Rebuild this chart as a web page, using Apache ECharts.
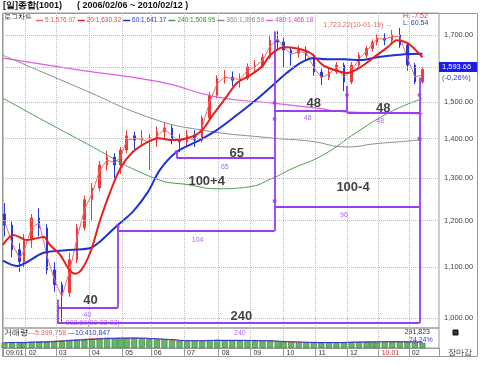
<!DOCTYPE html>
<html><head><meta charset="utf-8">
<script src="https://cdn.jsdelivr.net/npm/echarts@6/dist/echarts.min.js"></script>
<style>html,body{margin:0;padding:0;background:#fff}#c{width:480px;height:365px}</style>
</head><body><div id="c"></div>
<script>
// ---------- categories (trading days) ----------
const holidays = ['2009-01-26','2009-01-27','2009-05-01','2009-05-05','2009-10-02','2009-12-25','2009-12-31','2010-01-01','2010-02-15','2010-03-01'];
function tradingDays(from, to) {
  const out = [];
  const d = new Date(from + 'T00:00:00Z'), end = new Date(to + 'T00:00:00Z');
  while (d <= end) {
    const wd = d.getUTCDay(), s = d.toISOString().slice(0, 10);
    if (wd !== 0 && wd !== 6 && holidays.indexOf(s) < 0) out.push(s);
    d.setUTCDate(d.getUTCDate() + 1);
  }
  return out;
}
const days = tradingDays('2009-01-08', '2010-03-03');
const lastDataDay = '2010-02-12';

// ---------- weekly price data ----------
const weekDates = ['2009-01-09','2009-01-16','2009-01-23','2009-01-30',
 '2009-02-06','2009-02-13','2009-02-20','2009-02-27',
 '2009-03-06','2009-03-13','2009-03-20','2009-03-27',
 '2009-04-03','2009-04-10','2009-04-17','2009-04-24','2009-04-30',
 '2009-05-08','2009-05-15','2009-05-22','2009-05-29',
 '2009-06-05','2009-06-12','2009-06-19','2009-06-26',
 '2009-07-03','2009-07-10','2009-07-17','2009-07-24','2009-07-31',
 '2009-08-07','2009-08-14','2009-08-21','2009-08-28',
 '2009-09-04','2009-09-11','2009-09-18','2009-09-25',
 '2009-10-01','2009-10-09','2009-10-16','2009-10-23','2009-10-30',
 '2009-11-06','2009-11-13','2009-11-20','2009-11-27',
 '2009-12-04','2009-12-11','2009-12-18','2009-12-24','2009-12-30',
 '2010-01-08','2010-01-15','2010-01-22','2010-01-29',
 '2010-02-05','2010-02-12'];
const wkOpen = [1215,1190,1136,1111, 1157,1206,1184,1094, 1064,1048,1115,1184,
 1248,1276,1332,1352,1332, 1370,1407,1396,1401, 1401,1418,1428,1396,
 1391,1409,1396,1455,1519, 1568,1571,1562,1568, 1601,1604,1631,1684,
 1678,1653,1643,1653,1637, 1586,1571,1586,1607, 1557,1607,1637,1658,1678,
 1690,1684,1700,1669, 1607,1557];
const wkClose = [1190,1136,1111,1157, 1206,1184,1094,1064, 1048,1115,1184,1248,
 1276,1332,1352,1332,1370, 1407,1396,1401,1401, 1418,1428,1396,1391,
 1409,1396,1455,1519,1568, 1571,1562,1568,1601, 1604,1631,1684,1678,
 1653,1643,1653,1637,1586, 1571,1586,1607,1557, 1607,1637,1658,1678,1690,
 1684,1700,1669,1607, 1557,1593.66];
const wkLow = [1165,1120,1090,1100, 1140,1165,1085,1050, 992.69,1040,1108,1178,
 1200,1268,1318,1300,1310, 1362,1372,1382,1320, 1378,1398,1385,1365,
 1378,1378,1390,1450,1510, 1552,1545,1540,1562, 1585,1598,1625,1655,
 1600,1605,1630,1622,1575, 1548,1562,1580,1530, 1550,1600,1628,1648,1668,
 1668,1670,1660,1590, 1550,1552];
const wkHigh = [1240,1198,1150,1170, 1215,1228,1192,1110, 1070,1130,1192,1258,
 1288,1342,1368,1362,1378, 1422,1418,1422,1412, 1432,1442,1436,1412,
 1422,1422,1462,1528,1576, 1592,1588,1582,1612, 1622,1642,1700,1712,
 1690,1662,1668,1664,1642, 1596,1600,1616,1614, 1616,1646,1666,1686,1702,
 1706,1716,1723.22,1676, 1614,1600];
const ma5 = [1200,1150,1118,1135, 1185,1195,1125,1075, 1040,1090,1160,1225,
 1262,1318,1345,1338,1352, 1395,1400,1398,1390, 1405,1425,1408,1392,
 1400,1398,1430,1500,1552, 1572,1566,1565,1590, 1603,1620,1665,1688,
 1662,1640,1648,1645,1600, 1570,1580,1600,1572, 1590,1625,1650,1672,1688,
 1688,1695,1695,1630, 1572,1576.97];
const wkVol = [380,360,350,370, 420,450,430,440, 520,560,600,620,
 640,700,720,680,690, 700,720,680,650, 620,600,560,520,
 500,480,520,560,580, 540,520,500,520, 500,520,540,480,
 430,420,400,410,420, 380,360,350,380, 400,420,450,430,380,
 420,450,460,440, 380,360];

// ---------- moving averages ----------
const ma20 = [['2009-01-08',1147],['2009-01-19',1168],['2009-02-03',1157],['2009-02-18',1164],['2009-02-24',1147],
 ['2009-03-05',1125],['2009-03-13',1094],['2009-03-19',1086],['2009-03-25',1094],['2009-04-02',1132],['2009-04-10',1197],
 ['2009-04-21',1266],['2009-04-30',1325],['2009-05-14',1365],['2009-05-28',1391],['2009-06-08',1401],['2009-06-18',1396],
 ['2009-06-30',1398],['2009-07-16',1418],['2009-07-28',1463],['2009-08-11',1519],['2009-08-19',1554],['2009-09-01',1577],
 ['2009-09-11',1604],['2009-09-18',1637],['2009-10-01',1662],['2009-10-15',1658],['2009-10-28',1643],['2009-11-09',1607],
 ['2009-11-23',1589],['2009-12-01',1583],['2009-12-14',1601],['2009-12-28',1631],['2010-01-12',1662],['2010-01-20',1684],
 ['2010-01-29',1675],['2010-02-09',1646],['2010-02-12',1630.32]];
const ma60 = [['2009-01-08',1113],['2009-01-21',1102],['2009-02-18',1130],['2009-03-17',1136],['2009-04-02',1140],
 ['2009-04-10',1153],['2009-04-28',1190],['2009-05-14',1220],['2009-05-28',1266],['2009-06-09',1320],['2009-06-24',1365],
 ['2009-07-14',1393],['2009-07-31',1423],['2009-08-19',1463],['2009-09-08',1510],['2009-09-22',1548],['2009-10-06',1583],
 ['2009-10-19',1613],['2009-10-29',1628],['2009-11-12',1625],['2009-11-27',1625],['2009-12-14',1622],['2009-12-30',1631],
 ['2010-01-18',1637],['2010-02-02',1641],['2010-02-12',1641.17]];
const ma240 = [['2009-01-08',1510],['2009-03-24',1396],['2009-06-03',1300],['2009-07-07',1283],['2009-07-31',1274],
 ['2009-08-28',1278],['2009-09-22',1300],['2009-10-09',1322],['2009-11-09',1357],['2009-12-10',1418],['2010-01-14',1472],
 ['2010-02-12',1508.95]];
const ma360 = [['2009-01-08',1637],['2009-03-24',1539],['2009-06-01',1455],['2009-07-16',1423],['2009-09-22',1401],
 ['2009-10-28',1393],['2009-12-01',1378],['2009-12-28',1386],['2010-01-20',1391],['2010-02-12',1396.59]];
const ma480 = [['2009-01-08',1628],['2009-03-24',1592],['2009-06-09',1557],['2009-07-31',1513],['2009-09-22',1496],
 ['2009-11-03',1482],['2009-11-30',1472],['2010-01-14',1469],['2010-02-12',1466.18]];
const volMa5 = [['2009-01-09',370],['2009-02-13',430],['2009-03-13',540],['2009-04-10',660],['2009-05-15',700],['2009-06-12',600],
 ['2009-07-10',490],['2009-08-07',540],['2009-09-11',510],['2009-10-09',420],['2009-11-13',365],['2009-12-11',420],['2010-01-15',440],['2010-02-12',399.758]];
const volMa10 = [['2009-01-09',380],['2009-02-13',410],['2009-03-13',510],['2009-04-10',630],['2009-05-15',690],['2009-06-12',620],
 ['2009-07-10',510],['2009-08-07',530],['2009-09-11',515],['2009-10-09',440],['2009-11-13',380],['2009-12-11',410],['2010-01-15',435],['2010-02-12',410.847]];

const maNames = ['5','20','60','240','360','480'];
const maLast = ['1,576.97','1,630.32','1,641.17','1,508.95','1,396.59','1,466.18'];
const yTicks = [1000,1100,1200,1300,1400,1500,1600,1700];
const lastPrice = 1593.66, lastChange = '(-0,26%)';

// ---------- cycle annotations ----------
const annotSegs = [
 ['2009-03-03',990,'2009-03-03',1035],
 ['2009-03-03',1019,'2009-04-28',1019],
 ['2009-04-28',1019,'2009-04-28',1188],
 ['2009-04-28',1177,'2009-09-23',1177],
 ['2009-09-23',1177,'2009-09-23',1712],
 ['2009-06-24',1350,'2009-09-23',1350],
 ['2009-06-24',1350,'2009-06-24',1365],
 ['2009-09-23',1474,'2009-12-01',1474],
 ['2009-12-01',1470,'2009-12-01',1545],
 ['2009-12-01',1470,'2010-02-10',1470],
 ['2009-09-23',1231,'2010-02-10',1231],
 ['2009-03-03',990,'2010-02-10',990],
 ['2010-02-10',990,'2010-02-10',1570]];
const annotDots = [['2009-04-28',1188],['2009-06-24',1365],['2009-09-23',1497],['2009-09-23',1452],['2009-09-23',1245],
 ['2009-12-01',1519],['2010-02-10',1519],['2010-02-10',1400]];
const bigLabels = [['2009-04-02',1034,'40'],['2009-07-22',1291,'100+4'],['2009-08-19',1362,'65'],['2009-10-30',1496,'48'],
 ['2010-01-07',1482,'48'],['2009-12-07',1278,'100-4'],['2009-08-24',1002,'240']];
const smallLabels = [['2009-03-31',1005,'40'],['2009-07-14',1157,'104'],['2009-08-07',1327,'65'],['2009-10-26',1455,'48'],
 ['2010-01-05',1447,'48'],['2009-11-27',1213,'96'],['2009-08-21',972,'240']];
const lowNote = ['2009-03-06',990,'992.69(09-03-03)'];
const highNote = ['2010-01-19',1723.22,'1,723.22(10-01-19) \u2192'];

// ---------- chart ----------
const FONT = 'Liberation Sans, Arial, sans-serif';
const PURPLE = '#9a3cf0';
const isMonthStart = (i) => days[i] <= lastDataDay && (i === 0 || days[i].slice(0, 7) !== days[i - 1].slice(0, 7));
const fmtNum = (v) => v.toLocaleString('en-US', {minimumFractionDigits: 2, maximumFractionDigits: 2});
const maColors = ['#f06b6b','#e3201c','#1f30d8','#4f9a4f','#8c8c8c','#e05ce0'];
const maText = ['#ee5555','#e84040','#2a3bd0','#3f8f3f','#888888','#d040d0'];

const chart = echarts.init(document.getElementById('c'), null, {renderer: 'canvas'});
const lineS = (name, data, color, width, smooth, z) => ({
  name, type: 'line', data, symbol: 'none', smooth, z: z || 3,
  lineStyle: {color, width}, itemStyle: {color}, xAxisIndex: 0, yAxisIndex: 0
});

const option = {
  animation: false,
  textStyle: {fontFamily: FONT},
  grid: [
    {left: 3, right: 41, top: 13, height: 315, show: true, borderColor: '#9a9a9a', borderWidth: 1},
    {left: 3, right: 41, top: 328, height: 20, show: true, borderColor: '#9a9a9a', borderWidth: 1}
  ],
  legend: {
    left: 31, top: 12, itemWidth: 7, itemHeight: 1.5, icon: 'rect', itemGap: 2,
    textStyle: {fontSize: 6.5, fontFamily: FONT, padding: [0, 0, 0, -3]},
    data: maNames.map((n, i) => ({name: n, textStyle: {color: maText[i]}})),
    formatter: (n) => n + ':' + maLast[maNames.indexOf(n)],
    selectedMode: false
  },
  xAxis: [
    {type: 'category', gridIndex: 0, data: days, boundaryGap: false,
     axisLine: {show: false}, axisTick: {show: false}, axisLabel: {show: false},
     splitLine: {show: true, interval: (i) => isMonthStart(i), lineStyle: {type: 'dotted', color: '#bdbdbd'}}},
    {type: 'category', gridIndex: 1, data: days, boundaryGap: false,
     axisLine: {show: true, lineStyle: {color: '#9a9a9a'}},
     axisTick: {show: true, interval: (i) => isMonthStart(i), length: 9, lineStyle: {color: '#9a9a9a'}},
     splitLine: {show: true, interval: (i) => isMonthStart(i), lineStyle: {type: 'dotted', color: '#bdbdbd'}},
     axisLabel: {show: true, interval: (i) => isMonthStart(i), fontSize: 7, color: '#333', align: 'left',
       margin: 2, padding: [0, 0, 0, 3],
       formatter: (v) => {
         const mo = v.slice(5, 7);
         if (mo === '01') return v.slice(0, 4) === '2010' ? '{r|' + v.slice(2, 4) + '.01}' : v.slice(2, 4) + '.01';
         return mo;
       },
       rich: {r: {color: '#e02020', fontSize: 7}}}}
  ],
  yAxis: [
    {type: 'log', logBase: 10, gridIndex: 0, min: 981, max: 1772, position: 'right',
     axisLine: {show: false}, axisTick: {show: false}, axisLabel: {show: false}, splitLine: {show: false}},
    {type: 'value', gridIndex: 1, min: 0, max: 1400, show: false, splitLine: {show: false}}
  ],
  graphic: [
    {type: 'rect', shape: {x: 2.5, y: 13.5, width: 475, height: 343}, style: {fill: 'none', stroke: '#9a9a9a', lineWidth: 1}, silent: true},
    {type: 'line', shape: {x1: 439.5, y1: 348, x2: 439.5, y2: 357}, style: {stroke: '#9a9a9a', lineWidth: 1}, silent: true},
    {type: 'text', left: 3, top: 1, style: {text: '[일]종합(1001)      ( 2006/02/06 ~ 2010/02/12 )', fontSize: 9, fontWeight: 'bold', fill: '#111', fontFamily: FONT}},
    {type: 'text', left: 4, top: 14, style: {text: '로그차트', fontSize: 7, fill: '#222', fontFamily: FONT}},
    {type: 'text', left: 403, top: 13, style: {text: 'H: -7.52', fontSize: 7, fill: '#e03030', fontFamily: FONT}},
    {type: 'text', left: 403, top: 20, style: {text: 'L: 60.54', fontSize: 7, fill: '#2a3bd0', fontFamily: FONT}},
    {type: 'text', left: 4, top: 329, style: {text: '{k|거래량}{r|\u20145:399,758} {b|\u201410:410,847}', fontSize: 7, fontFamily: FONT,
      rich: {k: {fill: '#222', fontSize: 7.5}, r: {fill: '#ee5555', fontSize: 7}, b: {fill: '#2a3bd0', fontSize: 7}}}},
    {type: 'text', right: 50, top: 329, style: {text: '291,823', fontSize: 7, fill: '#333', fontFamily: FONT, align: 'right'}},
    {type: 'text', left: 409, top: 337, style: {text: '74.24%', fontSize: 7, fill: '#2a3bd0', fontFamily: FONT}},
    {type: 'rect', shape: {x: 453, y: 330, width: 5, height: 5}, style: {fill: '#333', stroke: '#111'}},
    {type: 'text', left: 448, top: 349, style: {text: '장마감', fontSize: 7.5, fill: '#333', fontFamily: FONT}}
  ],
  series: [
    {name: 'price', type: 'candlestick', xAxisIndex: 0, yAxisIndex: 0, z: 2, barWidth: 2,
     data: weekDates.map((d, i) => [d, wkOpen[i], wkClose[i], wkLow[i], wkHigh[i]]),
     encode: {x: 0, y: [1, 2, 3, 4]},
     itemStyle: {color: '#f03a3a', color0: '#2838e0', borderColor: '#f03a3a', borderColor0: '#2838e0', borderWidth: 1}},
    Object.assign(lineS('5', weekDates.map((d, i) => [d, ma5[i]]), maColors[0], 1, false, 3)),
    Object.assign(lineS('480', ma480, maColors[5], 1.2, true, 3), {
      markLine: {silent: true, symbol: 'none',
        lineStyle: {type: 'dotted', color: '#bdbdbd', width: 1},
        data: yTicks.map((v) => ({yAxis: v, label: {show: v !== 1600}})),
        label: {position: 'end', distance: 5, fontSize: 7.5, color: '#444', fontFamily: FONT,
          formatter: (p) => fmtNum(p.value)}}}),
    lineS('360', ma360, maColors[4], 1, true, 3),
    lineS('240', ma240, maColors[3], 1, true, 3),
    lineS('60', ma60, maColors[2], 2, 0.3, 4),
    lineS('20', ma20, maColors[1], 2, 0.3, 5),
    {name: 'lastPx', type: 'line', data: [], xAxisIndex: 0, yAxisIndex: 0, z: 9,
     markLine: {silent: true, symbol: 'none', data: [{yAxis: lastPrice}],
       lineStyle: {color: 'rgba(0,0,0,0)', width: 1},
       label: {show: true, position: 'end', distance: 0, offset: [0, 3],
         formatter: '{a|' + fmtNum(lastPrice) + '}\n{b|' + lastChange + '}',
         rich: {a: {backgroundColor: '#1c1cf0', color: '#fff', fontSize: 7.5, padding: [1, 6, 1, 3], fontFamily: FONT, lineHeight: 11},
                b: {color: '#2a3bd0', fontSize: 7.5, padding: [0, 0, 0, 3], fontFamily: FONT, lineHeight: 11}}}}},
    {name: 'annot', type: 'line', data: [], xAxisIndex: 0, yAxisIndex: 0, z: 6,
     markLine: {silent: true, symbol: 'none', animation: false,
       lineStyle: {color: PURPLE, width: 1.8, type: 'solid'}, label: {show: false},
       data: annotSegs.map((s) => [{coord: [s[0], s[1]]}, {coord: [s[2], s[3]]}])}},
    {name: 'dots', type: 'scatter', data: annotDots, symbolSize: 4, z: 7,
     itemStyle: {color: PURPLE}, xAxisIndex: 0, yAxisIndex: 0},
    {name: 'bigLbl', type: 'scatter', data: bigLabels, symbolSize: 0, z: 8, clip: false,
     label: {show: true, position: 'inside', formatter: (p) => p.data[2], fontSize: 13, fontWeight: 'bold', color: '#111', fontFamily: FONT}},
    {name: 'smallLbl', type: 'scatter', data: smallLabels, symbolSize: 0, z: 8, clip: false,
     label: {show: true, position: 'inside', formatter: (p) => p.data[2], fontSize: 7, color: PURPLE, fontFamily: FONT}},
    {name: 'notes', type: 'scatter', symbolSize: 0, z: 8, clip: false,
     data: [
       {value: lowNote, label: {show: true, position: 'right', distance: 4, formatter: lowNote[2], fontSize: 7, color: PURPLE, fontFamily: FONT}},
       {value: highNote, label: {show: true, position: 'left', distance: 3, offset: [0, -3], formatter: highNote[2], fontSize: 7, color: '#e03a3a', fontFamily: FONT}}
     ]},
    {name: 'vol', type: 'bar', xAxisIndex: 1, yAxisIndex: 1, barWidth: 6,
     data: weekDates.map((d, i) => [d, wkVol[i]]),
     itemStyle: {color: '#67b567', borderColor: '#2e7d32', borderWidth: 0.6}},
    {name: 'v5', type: 'line', xAxisIndex: 1, yAxisIndex: 1, data: volMa5, symbol: 'none', smooth: true, lineStyle: {color: '#ee5555', width: 1}},
    {name: 'v10', type: 'line', xAxisIndex: 1, yAxisIndex: 1, data: volMa10, symbol: 'none', smooth: true, lineStyle: {color: '#2a3bd0', width: 1}}
  ]
};
chart.setOption(option);
</script>
</body></html>
